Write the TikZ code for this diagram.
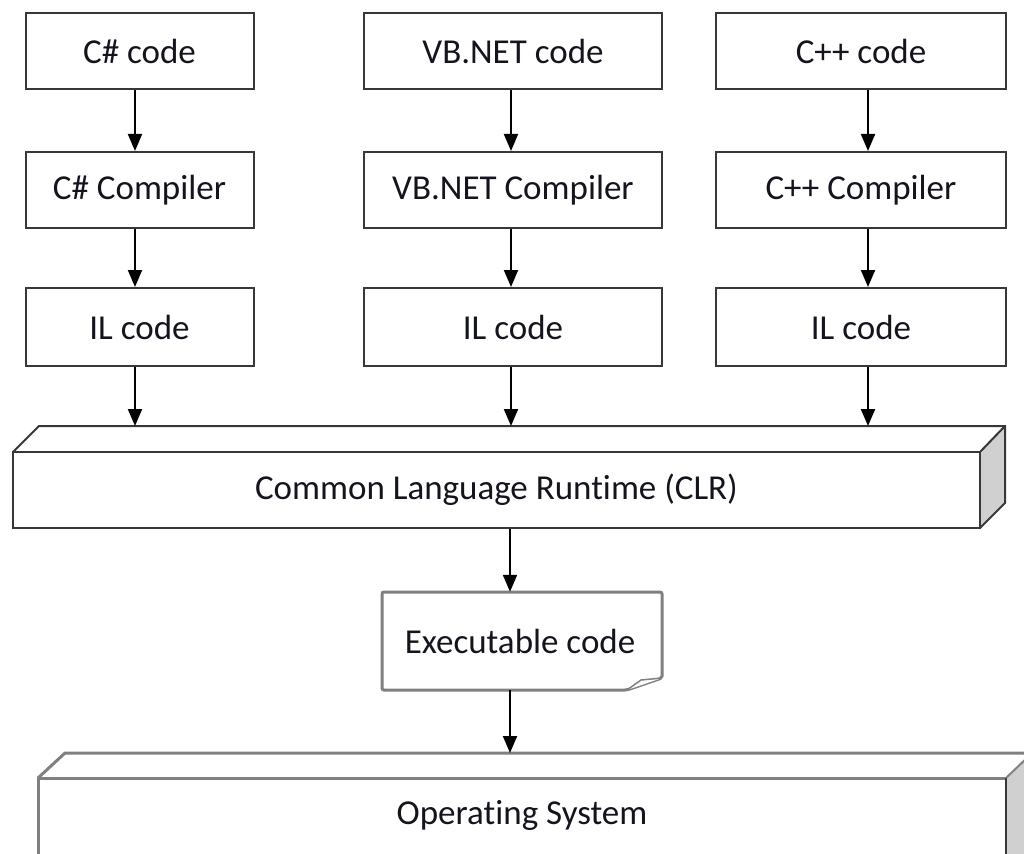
\documentclass[tikz,border=0pt]{standalone}
\usepackage{fontspec}
\setmainfont{Carlito}[Ligatures=NoCommon]
\usetikzlibrary{arrows.meta}
\definecolor{ln}{RGB}{55,55,55}
\definecolor{gln}{RGB}{128,128,128}
\definecolor{sidefill}{RGB}{208,208,208}
\definecolor{txt}{RGB}{20,20,30}
\begin{document}
\begin{tikzpicture}[x=1pt,y=-1pt,
  lbl/.style={font=\fontsize{35}{42}\selectfont, text=txt, inner sep=0pt},
  codebox/.style={lbl, draw=ln, line width=2pt, minimum height=76pt},
  arr/.style={draw=black, line width=2pt, -{Triangle[width=14pt,length=17pt]}},
  line join=miter]
\useasboundingbox (0,0) rectangle (1024,853);

% columns
\node[codebox, minimum width=228pt] (c1) at (139.5,51) {C\# code};
\node[codebox, minimum width=298pt] (c2) at (513,51) {VB.NET code};
\node[codebox, minimum width=290pt] (c3) at (861,51) {C++ code};
\node[codebox, minimum width=228pt] (k1) at (139.5,190) {C\# Compiler};
\node[codebox, minimum width=298pt] (k2) at (513,190) {VB.NET Compiler};
\node[codebox, minimum width=290pt] (k3) at (861,190) {C++ Compiler};
\node[codebox, minimum width=228pt, minimum height=78pt] (i1) at (139.5,327) {IL code};
\node[codebox, minimum width=298pt, minimum height=78pt] (i2) at (513,327) {IL code};
\node[codebox, minimum width=290pt, minimum height=78pt] (i3) at (861,327) {IL code};

\coordinate (ax1) at (135,0);
\coordinate (ax2) at (511,0);
\coordinate (ax3) at (868,0);

% CLR
\fill[sidefill] (980,452) -- (1005,426) -- (1005,503) -- (980,528) -- cycle;
\draw[ln, line width=2pt] (13,452) -- (39,426) -- (1005,426) -- (1005,503) -- (980,528);
\draw[ln, line width=2pt] (980,452) -- (1005,426);
\node[lbl, draw=ln, line width=2pt, minimum width=967pt, minimum height=76pt] (clr) at (496.5,490) {Common Language Runtime (CLR)};
\coordinate (clrtop) at (0,426);

% Executable code
\node[lbl, minimum width=280pt, minimum height=98pt] (exe) at (520,641) {Executable code};
\draw[gln, line width=3pt, rounded corners=2pt]
  (382,592) -- (662,592) -- (662,678) -- (627,690) -- (382,690) -- cycle;
\draw[gln, line width=1.5pt, fill=white] (627,690) -- (641,680) -- (662,678);

% Operating System
\fill[sidefill] (1006,778) -- (1032,753) -- (1032,870) -- (1006,870) -- cycle;
\draw[gln, line width=3pt] (38,870) -- (38,778) -- (1006,778);
\draw[gln, line width=3pt] (38,778) -- (65,753) -- (1032,753);
\draw[gln, line width=2pt] (1006,778) -- (1032,753);
\draw[ln, line width=2pt] (1006,778) -- (1006,870);
\node[lbl] (os) at (522,815) {Operating System};
\coordinate (ostop) at (0,753);

% arrows
\draw[arr] (c1.south -| ax1) -- (k1.north -| ax1);
\draw[arr] (c2.south -| ax2) -- (k2.north -| ax2);
\draw[arr] (c3.south -| ax3) -- (k3.north -| ax3);
\draw[arr] (k1.south -| ax1) -- (i1.north -| ax1);
\draw[arr] (k2.south -| ax2) -- (i2.north -| ax2);
\draw[arr] (k3.south -| ax3) -- (i3.north -| ax3);
\draw[arr] (i1.south -| ax1) -- (clrtop -| ax1);
\draw[arr] (i2.south -| ax2) -- (clrtop -| ax2);
\draw[arr] (i3.south -| ax3) -- (clrtop -| ax3);
\coordinate (ax4) at (510,0);
\draw[arr] (clr.south -| ax4) -- (exe.north -| ax4);
\draw[arr] (exe.south -| ax4) -- (ostop -| ax4);
\end{tikzpicture}
\end{document}
